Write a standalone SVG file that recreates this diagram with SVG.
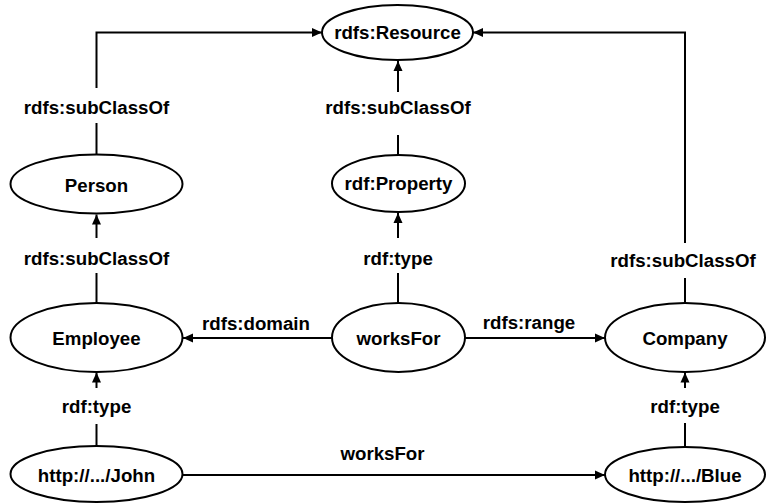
<svg xmlns="http://www.w3.org/2000/svg" width="766" height="503" viewBox="0 0 766 503">
<style>
  .node ellipse { fill: #ffffff; stroke: #000000; stroke-width: 2; }
  text { font-family: "Liberation Sans", Arial, sans-serif; font-weight: bold; font-size: 18.7px; fill: #000000; text-anchor: middle; }
  .edge path { fill: none; stroke: #000000; stroke-width: 2; }
</style>
<defs>
  <marker id="arrow" markerUnits="userSpaceOnUse" markerWidth="10" markerHeight="10" viewBox="0 0 10 10" refX="10" refY="5" orient="auto">
    <path d="M0,0.5 L10,5 L0,9.5 z" fill="#000000"/>
  </marker>
</defs>
<rect width="766" height="503" fill="#ffffff"/>
<g id="connectors" class="edge">
  <g id="e-person-resource">
    <path d="M96.5,154 V123"/>
    <path d="M96.5,88 V32.5 H322" marker-end="url(#arrow)"/>
    <text x="96.5" y="113.5">rdfs:subClassOf</text>
  </g>
  <g id="e-property-resource">
    <path d="M398,155 V135"/>
    <path d="M398,92 V61" marker-end="url(#arrow)"/>
    <text x="398" y="113.5">rdfs:subClassOf</text>
  </g>
  <g id="e-worksfor-property">
    <path d="M398,303 V273"/>
    <path d="M398,238 V213" marker-end="url(#arrow)"/>
    <text x="398" y="264.5">rdf:type</text>
  </g>
  <g id="e-employee-person">
    <path d="M96.5,303 V273"/>
    <path d="M96.5,238 V214.5" marker-end="url(#arrow)"/>
    <text x="96.5" y="264.5">rdfs:subClassOf</text>
  </g>
  <g id="e-worksfor-employee">
    <path d="M332,338 H183" marker-end="url(#arrow)"/>
    <text x="256" y="329.5">rdfs:domain</text>
  </g>
  <g id="e-worksfor-company">
    <path d="M465,338 H605" marker-end="url(#arrow)"/>
    <text x="529" y="328.5">rdfs:range</text>
  </g>
  <g id="e-company-resource">
    <path d="M685,303 V278"/>
    <path d="M685,243 V32.5 H473" marker-end="url(#arrow)"/>
    <text x="683" y="266.5">rdfs:subClassOf</text>
  </g>
  <g id="e-john-employee">
    <path d="M96.5,446 V424"/>
    <path d="M96.5,388 V372.5" marker-end="url(#arrow)"/>
    <text x="96.5" y="413">rdf:type</text>
  </g>
  <g id="e-blue-company">
    <path d="M685,447 V423"/>
    <path d="M685,388 V372.5" marker-end="url(#arrow)"/>
    <text x="685" y="413">rdf:type</text>
  </g>
  <g id="e-john-blue">
    <path d="M182.5,475 H605" marker-end="url(#arrow)"/>
    <text x="382.5" y="460">worksFor</text>
  </g>
</g>
<g id="n-resource" class="node">
  <ellipse cx="397.5" cy="32.5" rx="75.5" ry="27.5"/>
  <text x="397.5" y="39.3">rdfs:Resource</text>
</g>
<g id="n-person" class="node">
  <ellipse cx="96.5" cy="184" rx="86" ry="29.5"/>
  <text x="96.5" y="192.3">Person</text>
</g>
<g id="n-property" class="node">
  <ellipse cx="398.5" cy="183.5" rx="66.5" ry="28.5"/>
  <text x="398.5" y="190.3">rdf:Property</text>
</g>
<g id="n-employee" class="node">
  <ellipse cx="96.5" cy="337.5" rx="86" ry="34.5"/>
  <text x="96.5" y="345">Employee</text>
</g>
<g id="n-worksfor" class="node">
  <ellipse cx="398.5" cy="337.5" rx="66.5" ry="34.5"/>
  <text x="398.5" y="345">worksFor</text>
</g>
<g id="n-company" class="node">
  <ellipse cx="685" cy="337.5" rx="80" ry="34.5"/>
  <text x="685" y="345">Company</text>
</g>
<g id="n-john" class="node">
  <ellipse cx="96.5" cy="474" rx="86" ry="28"/>
  <text x="96.5" y="481.7">http://.../John</text>
</g>
<g id="n-blue" class="node">
  <ellipse cx="685" cy="474.5" rx="80" ry="27.5"/>
  <text x="685" y="481.7">http://.../Blue</text>
</g>
</svg>
